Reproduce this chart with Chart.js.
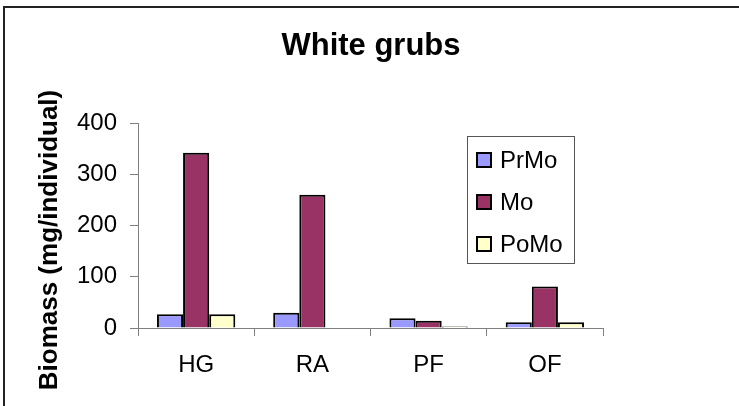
<!DOCTYPE html>
<html>
<head>
<meta charset="utf-8">
<script src="https://cdn.jsdelivr.net/npm/chart.js@4/dist/chart.umd.min.js"></script>
<style>
  html, body { margin: 0; padding: 0; background: #fff; overflow: hidden; }
</style>
</head>
<body>
<canvas id="grubChart" width="739" height="406"></canvas>
<script>
var categories = ['HG', 'RA', 'PF', 'OF']
var prMo = [27, 30, 19, 11]
var mo = [342, 260, 14, 81]
var poMo = [27, 0, 3, 11]
var yTicks = [0, 100, 200, 300, 400]

var FONT = '"Liberation Sans", Arial, sans-serif'

// outer chart frame, only top and left edges show in the picture
var frame = {
  id: 'frame',
  beforeDraw: function (chart) {
    var ctx = chart.ctx
    ctx.save()
    ctx.fillStyle = '#fff'
    ctx.fillRect(0, 0, chart.width, chart.height)
    ctx.strokeStyle = '#222'
    ctx.lineWidth = 2
    ctx.beginPath()
    ctx.moveTo(4, chart.height)
    ctx.lineTo(4, 7)
    ctx.lineTo(chart.width, 7)
    ctx.stroke()
    ctx.restore()
  }
}

// legend box drawn inside the plot, like the excel one
var boxLegend = {
  id: 'boxLegend',
  afterDraw: function (chart) {
    var ctx = chart.ctx
    ctx.save()
    ctx.strokeStyle = '#555'
    ctx.lineWidth = 1
    ctx.fillStyle = '#fff'
    ctx.fillRect(467.5, 136.5, 107, 127)
    ctx.strokeRect(467.5, 136.5, 107, 127)
    ctx.font = '24px ' + FONT
    ctx.textBaseline = 'middle'
    ctx.textAlign = 'left'
    chart.data.datasets.forEach(function (ds, i) {
      var y = 153 + i * 42
      ctx.fillStyle = ds.backgroundColor
      ctx.fillRect(477, y, 14, 14)
      ctx.lineWidth = 2
      ctx.strokeStyle = '#000'
      ctx.strokeRect(477, y, 14, 14)
      ctx.fillStyle = '#000'
      ctx.fillText(ds.label, 500, y + 8)
    })
    ctx.restore()
  }
}

// chart title + y axis title (excel centres them on the whole chart, not the plot)
var titles = {
  id: 'titles',
  afterDraw: function (chart) {
    var ctx = chart.ctx
    ctx.save()
    ctx.fillStyle = '#000'
    ctx.textAlign = 'center'
    ctx.textBaseline = 'alphabetic'
    ctx.font = 'bold 31px ' + FONT
    ctx.fillText('White grubs', 371, 54.5)

    ctx.translate(56.5, 240)
    ctx.rotate(-Math.PI / 2)
    ctx.font = 'bold 26px ' + FONT
    ctx.fillText('Biomass (mg/individual)', 0, 0)
    ctx.restore()
  }
}

var ctx = document.getElementById('grubChart').getContext('2d')

var chart = new Chart(ctx, {
  type: 'bar',
  data: {
    labels: categories,
    datasets: [
      { label: 'PrMo', data: prMo, backgroundColor: '#9999FF' },
      { label: 'Mo', data: mo, backgroundColor: '#993366' },
      { label: 'PoMo', data: poMo, backgroundColor: '#FFFFCC' }
    ].map(function (d) {
      d.borderColor = '#000'
      d.borderWidth = 2
      d.categoryPercentage = 0.674
      d.barPercentage = 1
      return d
    })
  },
  options: {
    responsive: false,
    animation: false,
    devicePixelRatio: 1,
    layout: { padding: { left: 0, right: 136, top: 123, bottom: 0 } },
    plugins: {
      legend: { display: false },
      tooltip: { enabled: false },
      title: { display: false }
    },
    scales: {
      x: {
        grid: { display: true, drawOnChartArea: false, offset: true, tickLength: 8, color: '#808080' },
        border: { display: true, color: '#808080', width: 1 },
        ticks: { color: '#000', padding: 15, font: { family: FONT, size: 24 } },
        afterFit: function (scale) { scale.height = 78 }
      },
      y: {
        min: 0,
        max: 400,
        afterBuildTicks: function (scale) {
          scale.ticks = yTicks.map(function (v) { return { value: v } })
        },
        grid: { display: true, drawOnChartArea: false, tickLength: 8, color: '#808080' },
        border: { display: true, color: '#808080', width: 1 },
        ticks: { color: '#000', padding: 13, font: { family: FONT, size: 24 } },
        afterFit: function (scale) { scale.width = 138 }
      }
    }
  },
  plugins: [frame, boxLegend, titles]
})
</script>
</body>
</html>
